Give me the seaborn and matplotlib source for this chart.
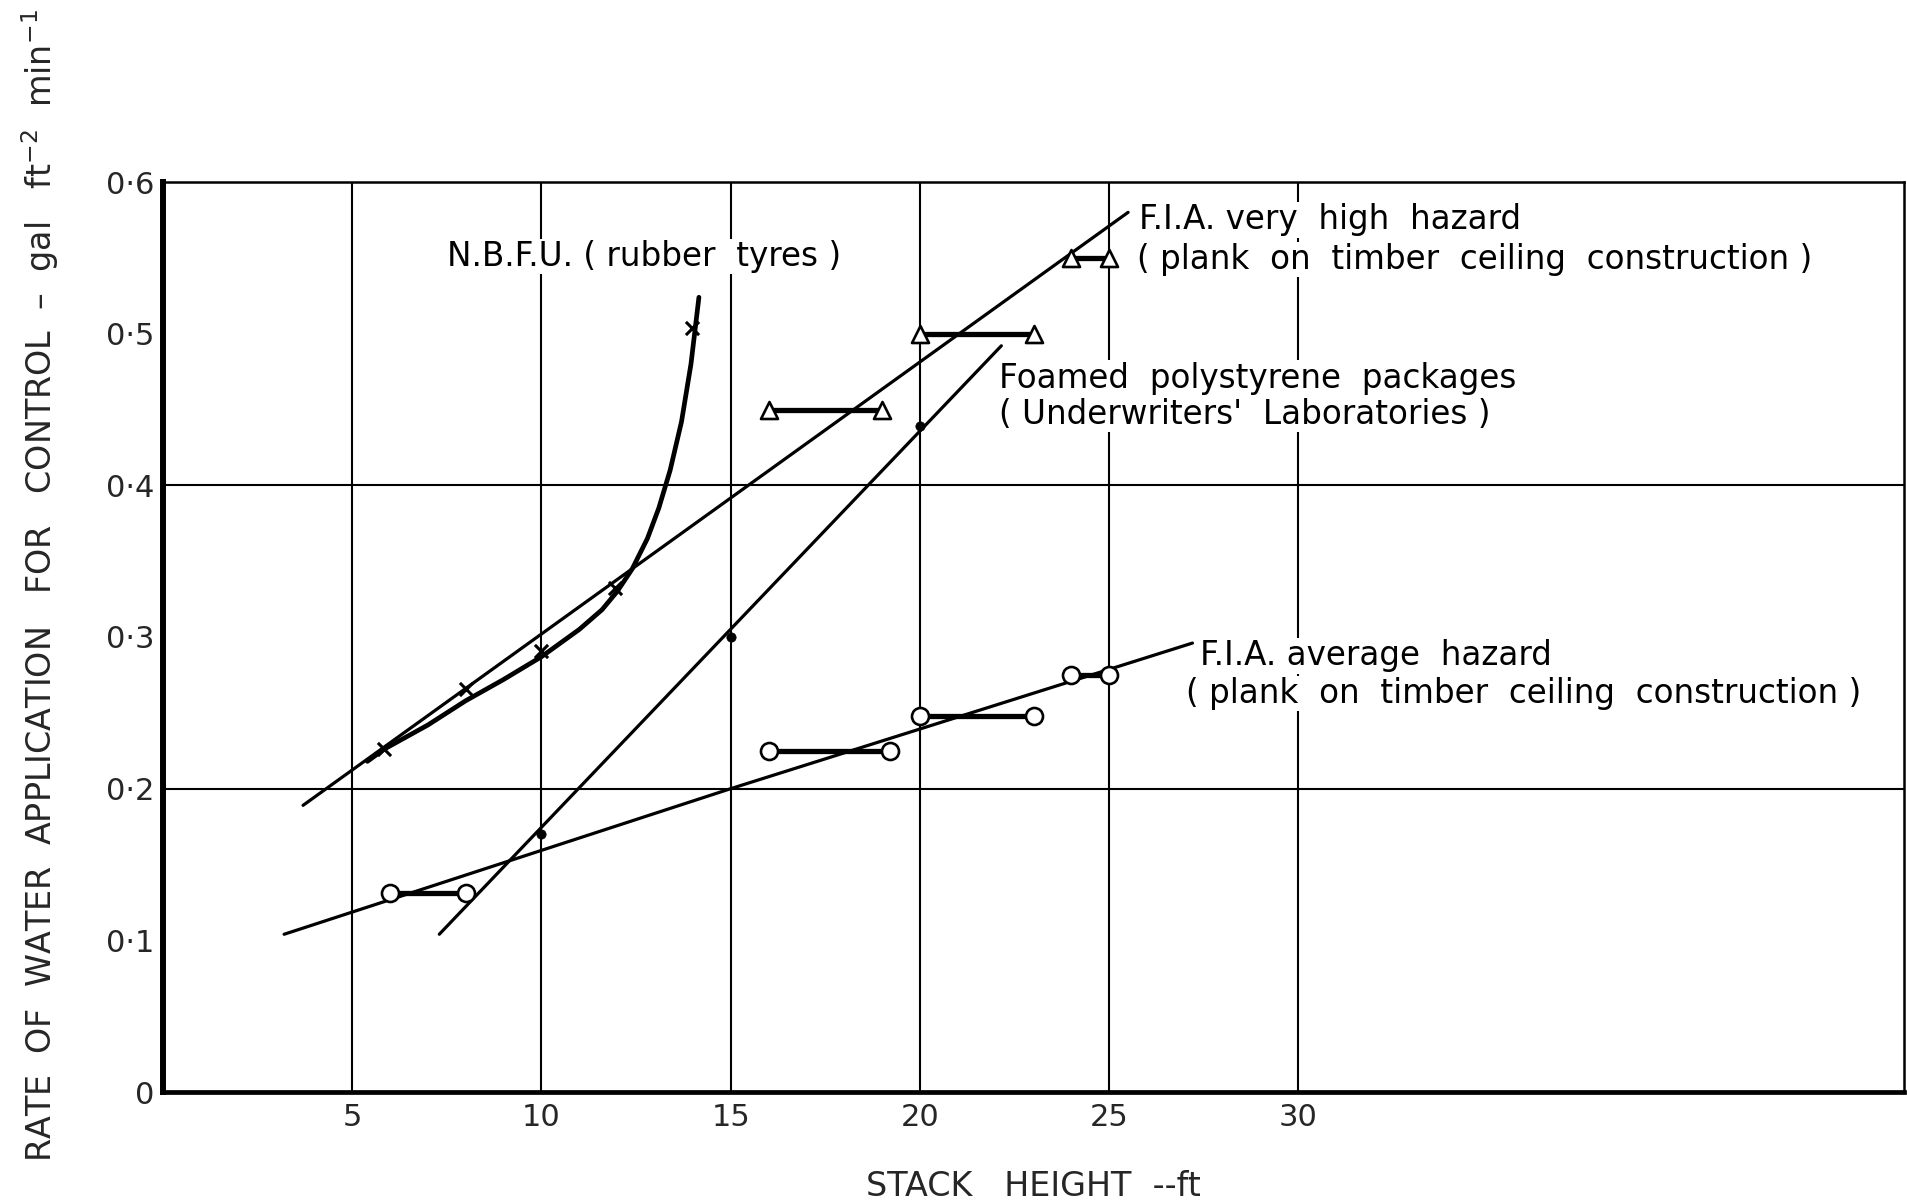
import matplotlib
matplotlib.use("Agg")
import matplotlib.pyplot as plt
import seaborn as sns
import pandas as pd

# ---------------- data ----------------
# N.B.F.U. (rubber tyres)
nbfu_pts_x = [5.84, 8.0, 10.0, 11.95, 13.97]
nbfu_pts_y = [0.226, 0.266, 0.291, 0.332, 0.504]
nbfu_curve_x = [5.4, 5.84, 7.0, 8.0, 9.0, 10.0, 11.0, 11.6, 12.0, 12.4, 12.8, 13.1, 13.4, 13.7, 13.95, 14.16]
nbfu_curve_y = [0.218, 0.226, 0.242, 0.258, 0.272, 0.287, 0.305, 0.318, 0.330, 0.345, 0.365, 0.385, 0.410, 0.442, 0.480, 0.524]

# F.I.A. very high hazard
vhh_x1 = [16.0, 20.0, 24.0]
vhh_x2 = [19.0, 23.0, 25.0]
vhh_y = [0.45, 0.50, 0.55]
vhh_line_x = [3.7, 25.5]
vhh_line_y = [0.189, 0.58]

# Foamed polystyrene packages
foam_x = [10.0, 15.0, 20.0]
foam_y = [0.170, 0.300, 0.439]
foam_line_x = [7.3, 22.15]
foam_line_y = [0.104, 0.492]

# F.I.A. average hazard
avg_x1 = [6.0, 16.0, 20.0, 24.0]
avg_x2 = [8.0, 19.2, 23.0, 25.0]
avg_y = [0.131, 0.225, 0.248, 0.275]
avg_line_x = [3.2, 15.0, 27.2]
avg_line_y = [0.104, 0.200, 0.296]

x_ticks = [5, 10, 15, 20, 25, 30]
x_tick_labels = ["5", "10", "15", "20", "25", "30"]
y_ticks = [0, 0.1, 0.2, 0.3, 0.4, 0.5, 0.6]
y_tick_labels = ["0", "0·1", "0·2", "0·3", "0·4", "0·5", "0·6"]
y_grid = [0.2, 0.4]

labels = [
    ("N.B.F.U. ( rubber  tyres )", 7.5, 0.551),
    ("F.I.A. very  high  hazard", 25.8, 0.575),
    ("( plank  on  timber  ceiling  construction )", 25.74, 0.549),
    ("Foamed  polystyrene  packages", 22.1, 0.4707),
    ("( Underwriters'  Laboratories )", 22.1, 0.447),
    ("F.I.A. average  hazard", 27.41, 0.2876),
    ("( plank  on  timber  ceiling  construction )", 27.02, 0.2627),
]

# ---------------- styling ----------------
sns.set_style("white")
plt.rcParams["font.family"] = ["DejaVu Sans"]
plt.rcParams["mathtext.fontset"] = "dejavusans"

W, H = 1908, 1202
fig = plt.figure(figsize=(W / 100, H / 100), dpi=100)
ax = fig.add_axes([163 / W, 1 - 1092 / H, 1741 / W, 910 / H])

ax.set_xlim(0, 46)
ax.set_ylim(0, 0.6)

# grid
ax.set_xticks(x_ticks)
ax.set_xticklabels(x_tick_labels, fontsize=22)
ax.set_yticks(y_ticks)
ax.set_yticklabels(y_tick_labels, fontsize=22)
ax.grid(True, axis="x", color="black", linewidth=1.5, zorder=1)
ax.grid(False, axis="y")
for yy in y_grid:
    ax.axhline(yy, color="black", linewidth=1.5, zorder=1)
ax.tick_params(axis="x", length=0, pad=8)
ax.tick_params(axis="y", direction="in", length=13, width=1.6, pad=6, color="black")

for side, lw in [("left", 4.3), ("bottom", 3.4), ("top", 1.8), ("right", 1.8)]:
    ax.spines[side].set_visible(True)
    ax.spines[side].set_color("black")
    ax.spines[side].set_linewidth(lw)

# ---------------- marks ----------------
# fitted lines
for lx, ly in [(vhh_line_x, vhh_line_y), (foam_line_x, foam_line_y), (avg_line_x, avg_line_y)]:
    sns.lineplot(x=lx, y=ly, ax=ax, color="black", linewidth=2.3,
                 estimator=None, sort=False, zorder=3)
# N.B.F.U. curve
sns.lineplot(x=nbfu_curve_x, y=nbfu_curve_y, ax=ax, color="black", linewidth=3.4,
             estimator=None, sort=False, zorder=3)

# range bars
bars = pd.DataFrame({
    "x": vhh_x1 + vhh_x2 + avg_x1 + avg_x2,
    "y": vhh_y + vhh_y + avg_y + avg_y,
    "pair": [f"v{i}" for i in range(3)] * 2 + [f"a{i}" for i in range(4)] * 2,
})
sns.lineplot(data=bars, x="x", y="y", units="pair", estimator=None, ax=ax,
             color="black", linewidth=3.8, zorder=4)

# markers
sns.scatterplot(x=vhh_x1 + vhh_x2, y=vhh_y + vhh_y, ax=ax, marker="^", s=150,
                color="white", edgecolor="black", linewidth=1.9, zorder=5)
sns.scatterplot(x=avg_x1 + avg_x2, y=avg_y + avg_y, ax=ax, marker="o", s=150,
                color="white", edgecolor="black", linewidth=1.9, zorder=5)
sns.scatterplot(x=nbfu_pts_x, y=nbfu_pts_y, ax=ax, marker="x", s=90,
                color="black", linewidth=2.2, zorder=5)
sns.scatterplot(x=foam_x, y=foam_y, ax=ax, marker="o", s=45,
                color="black", edgecolor="black", linewidth=0.5, zorder=5)

# text labels
for txt, tx, ty in labels:
    ax.text(tx, ty, txt, fontsize=23.5, ha="left", va="center", color="black", zorder=6,
            bbox=dict(facecolor="white", edgecolor="none", pad=1.0))

# axis labels
ax.set_xlabel("STACK   HEIGHT  --ft", fontsize=24)
ax.xaxis.set_label_coords(0.5, -0.086)
ax.set_ylabel("RATE  OF  WATER  APPLICATION   FOR   CONTROL  –  gal   ft$^{-2}$  min$^{-1}$",
              fontsize=24)
ax.yaxis.set_label_coords(-0.0586, 0.556)

fig.savefig("out.png", dpi=100, facecolor="white")
